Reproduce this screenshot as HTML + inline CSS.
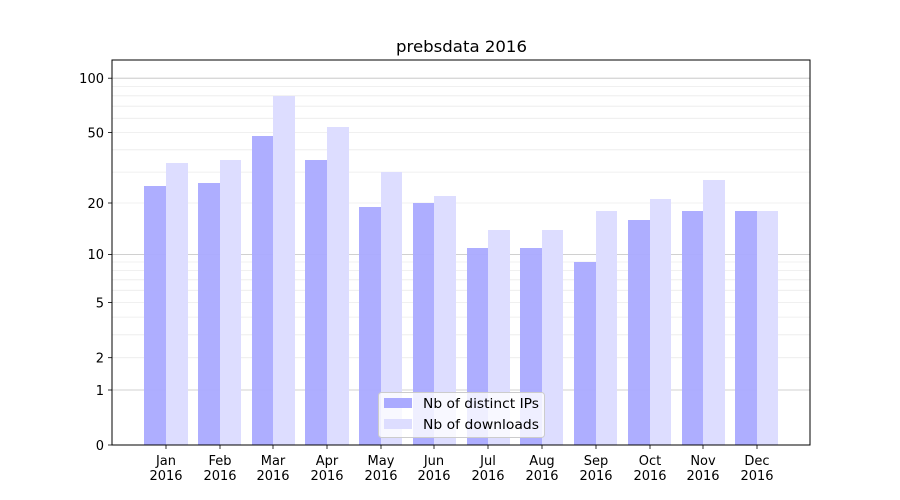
<!DOCTYPE html>
<html><head><meta charset="utf-8"><style>body{margin:0;background:#fff}svg{display:block}text{font-family:"DejaVu Sans","Liberation Sans",sans-serif;fill:#000}</style></head>
<body>
<svg width="900" height="500" viewBox="0 0 900 500">
<rect width="900" height="500" fill="#fff"/>
<g stroke="#ebebeb" stroke-width="0.8">
<line x1="112" x2="810" y1="357.7" y2="357.7"/><line x1="112" x2="810" y1="334.8" y2="334.8"/><line x1="112" x2="810" y1="317.1" y2="317.1"/><line x1="112" x2="810" y1="302.6" y2="302.6"/><line x1="112" x2="810" y1="290.3" y2="290.3"/><line x1="112" x2="810" y1="279.8" y2="279.8"/><line x1="112" x2="810" y1="270.4" y2="270.4"/><line x1="112" x2="810" y1="262" y2="262"/>
<line x1="112" x2="810" y1="203" y2="203"/><line x1="112" x2="810" y1="172.1" y2="172.1"/><line x1="112" x2="810" y1="149.8" y2="149.8"/><line x1="112" x2="810" y1="132.5" y2="132.5"/><line x1="112" x2="810" y1="118.3" y2="118.3"/><line x1="112" x2="810" y1="106.2" y2="106.2"/><line x1="112" x2="810" y1="95.8" y2="95.8"/><line x1="112" x2="810" y1="86.5" y2="86.5"/>
</g>
<g stroke="#c0c0c0" stroke-width="0.8">
<line x1="112" x2="810" y1="390" y2="390"/><line x1="112" x2="810" y1="254.4" y2="254.4"/><line x1="112" x2="810" y1="78.2" y2="78.2"/>
</g>
<g fill="#aaaaff" fill-opacity="0.95">
<rect x="144" y="186" width="22" height="259"/><rect x="198" y="183" width="22" height="262"/><rect x="252" y="136" width="21" height="309"/><rect x="305" y="160" width="22" height="285"/><rect x="359" y="207" width="22" height="238"/><rect x="413" y="203" width="21" height="242"/><rect x="467" y="248" width="21" height="197"/><rect x="520" y="248" width="22" height="197"/><rect x="574" y="262" width="22" height="183"/><rect x="628" y="220" width="22" height="225"/><rect x="682" y="211" width="21" height="234"/><rect x="735" y="211" width="22" height="234"/>
</g>
<g fill="#ddddff">
<rect x="166" y="163" width="22" height="282"/><rect x="220" y="160" width="21" height="285"/><rect x="273" y="96" width="22" height="349"/><rect x="327" y="127" width="22" height="318"/><rect x="381" y="172" width="21" height="273"/><rect x="434" y="196" width="22" height="249"/><rect x="488" y="230" width="22" height="215"/><rect x="542" y="230" width="21" height="215"/><rect x="596" y="211" width="21" height="234"/><rect x="650" y="199" width="21" height="246"/><rect x="703" y="180" width="22" height="265"/><rect x="757" y="211" width="21" height="234"/>
</g>
<rect x="112" y="60" width="698" height="385" fill="none" stroke="#000" stroke-width="1"/>
<g stroke="#000" stroke-width="0.8">
<line x1="108" x2="112" y1="445" y2="445"/><line x1="108" x2="112" y1="390" y2="390"/><line x1="108" x2="112" y1="357.7" y2="357.7"/><line x1="108" x2="112" y1="302.6" y2="302.6"/><line x1="108" x2="112" y1="254.4" y2="254.4"/><line x1="108" x2="112" y1="203" y2="203"/><line x1="108" x2="112" y1="132.5" y2="132.5"/><line x1="108" x2="112" y1="78.2" y2="78.2"/>
<line x1="166" x2="166" y1="445" y2="449"/><line x1="220" x2="220" y1="445" y2="449"/><line x1="273" x2="273" y1="445" y2="449"/><line x1="327" x2="327" y1="445" y2="449"/><line x1="381" x2="381" y1="445" y2="449"/><line x1="434" x2="434" y1="445" y2="449"/><line x1="488" x2="488" y1="445" y2="449"/><line x1="542" x2="542" y1="445" y2="449"/><line x1="596" x2="596" y1="445" y2="449"/><line x1="650" x2="650" y1="445" y2="449"/><line x1="703" x2="703" y1="445" y2="449"/><line x1="757" x2="757" y1="445" y2="449"/>
</g>
<g font-size="13" text-anchor="end">
<text x="104" y="450">0</text><text x="104" y="395">1</text><text x="104" y="362.5">2</text><text x="104" y="307.5">5</text><text x="104" y="259">10</text><text x="104" y="208">20</text><text x="104" y="137.5">50</text><text x="104" y="83">100</text>
</g>
<g font-size="13" text-anchor="middle">
<text x="166" y="465">Jan</text><text x="166" y="480">2016</text>
<text x="220" y="465">Feb</text><text x="220" y="480">2016</text>
<text x="273" y="465">Mar</text><text x="273" y="480">2016</text>
<text x="327" y="465">Apr</text><text x="327" y="480">2016</text>
<text x="381" y="465">May</text><text x="381" y="480">2016</text>
<text x="434" y="465">Jun</text><text x="434" y="480">2016</text>
<text x="488" y="465">Jul</text><text x="488" y="480">2016</text>
<text x="542" y="465">Aug</text><text x="542" y="480">2016</text>
<text x="596" y="465">Sep</text><text x="596" y="480">2016</text>
<text x="650" y="465">Oct</text><text x="650" y="480">2016</text>
<text x="703" y="465">Nov</text><text x="703" y="480">2016</text>
<text x="757" y="465">Dec</text><text x="757" y="480">2016</text>
</g>
<text x="396" y="52" font-size="16" textLength="131" lengthAdjust="spacingAndGlyphs">prebsdata 2016</text>
<rect x="378.5" y="392.5" width="166" height="45" rx="3" fill="#fff" fill-opacity="0.8" stroke="#ccc"/>
<rect x="384" y="398" width="28" height="10" fill="#aaaaff"/>
<rect x="384" y="419" width="28" height="10" fill="#ddddff"/>
<text x="423" y="408" font-size="13" textLength="116" lengthAdjust="spacingAndGlyphs">Nb of distinct IPs</text>
<text x="423" y="429" font-size="13" textLength="116" lengthAdjust="spacingAndGlyphs">Nb of downloads</text>
</svg>
</body></html>
